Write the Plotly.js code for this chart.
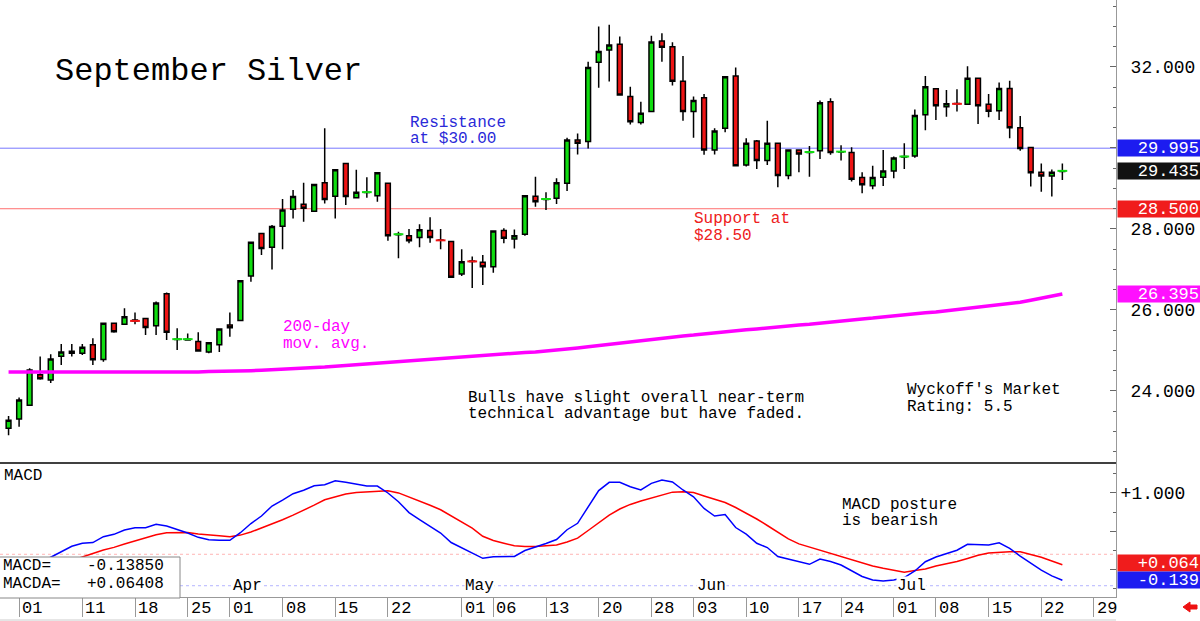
<!DOCTYPE html>
<html><head><meta charset="utf-8">
<script src="https://cdn.plot.ly/plotly-3.0.1.min.js"></script>
<style>html,body{margin:0;padding:0;background:#fff}#chart{width:1200px;height:621px}</style>
</head><body><div id="chart"></div>
<script>
// Daily OHLC, Feb 29 .. Jul 24 (trading days, index = position)
const openP = [23.08,23.31,23.65,24.40,24.27,24.86,24.98,24.93,25.14,24.78,
25.67,25.65,25.75,25.79,25.61,26.40,25.27,25.26,25.22,24.96,
25.14,25.63,25.74,26.84,27.89,27.55,28.07,28.49,28.61,28.44,
29.14,28.81,29.62,28.77,28.90,28.82,29.13,27.86,27.83,27.79,
27.96,27.73,27.69,26.89,27.21,27.18,27.07,27.96,27.75,27.87,
28.81,28.73,28.76,29.13,30.20,30.16,32.12,32.42,32.56,31.27,
30.63,30.90,32.64,32.50,31.65,30.90,31.24,29.95,30.49,31.78,
29.58,30.17,29.69,30.12,29.32,29.95,29.89,29.93,31.14,29.90,
29.89,29.27,29.07,29.28,29.43,29.78,29.80,30.82,31.46,31.02,
31.10,31.08,31.72,31.08,30.92,31.47,30.50,30.01,29.40,29.31,
29.42];
const highP = [23.38,23.84,24.56,24.85,24.91,25.16,25.16,25.16,25.30,25.69,
25.69,26.04,25.94,25.79,26.21,26.43,25.55,25.42,25.45,25.20,
25.54,25.94,26.74,27.67,27.89,28.10,28.74,28.96,29.14,29.10,
30.49,29.47,29.62,29.46,29.28,29.41,29.15,27.93,28.00,28.12,
28.29,28.00,27.70,27.50,27.32,27.36,27.97,28.02,27.99,28.84,
29.29,28.91,29.25,30.25,30.36,32.13,33.00,33.04,32.75,31.51,
31.14,32.77,32.83,32.61,32.27,31.27,31.33,30.49,31.78,31.99,
30.24,30.20,30.67,30.13,29.97,29.96,30.05,31.17,31.23,30.07,
30.02,29.40,29.56,29.95,29.79,30.12,30.95,31.78,31.48,31.43,
31.45,32.02,31.73,31.33,31.62,31.66,30.79,30.03,29.62,29.47,
29.62];
const lowP = [22.91,23.12,23.63,24.28,24.20,24.64,24.85,24.89,24.64,24.72,
25.44,25.63,25.65,25.38,25.38,25.26,25.01,25.24,24.97,24.93,
24.96,25.34,25.73,26.70,27.36,27.00,27.50,28.26,28.18,28.42,
28.63,28.26,28.59,28.76,28.77,28.67,27.71,27.28,27.65,27.55,
27.66,27.50,26.80,26.84,26.54,26.62,26.92,27.65,27.52,27.83,
28.55,28.47,28.62,28.94,29.84,29.99,31.49,31.64,31.29,30.58,
30.58,30.89,32.13,31.54,30.67,30.25,29.83,29.84,30.39,29.55,
29.54,29.48,29.58,29.03,29.23,29.40,29.29,29.73,29.83,29.69,
29.17,28.88,28.98,29.06,29.25,29.48,29.76,30.44,30.69,30.77,
30.90,31.07,30.59,30.76,30.69,30.24,29.93,29.05,28.92,28.80,
29.21];
const closeP = [23.28,23.78,24.52,24.30,24.79,24.96,24.93,25.08,24.77,25.67,
25.46,25.83,25.73,25.57,26.17,25.45,25.28,25.28,24.99,25.19,
25.53,25.56,26.72,27.67,27.52,28.06,28.47,28.80,28.51,29.10,
28.73,29.46,28.80,28.91,28.91,29.39,27.83,27.87,27.71,27.98,
27.79,27.72,26.81,27.19,27.20,27.07,27.95,27.77,27.83,28.82,
28.67,28.74,29.14,30.20,30.12,31.99,32.38,32.54,31.31,30.65,
30.86,32.62,32.49,31.65,30.90,31.17,29.95,30.42,31.76,29.56,
30.12,29.69,30.12,29.32,29.95,29.85,29.90,31.12,29.89,29.91,
29.23,29.09,29.27,29.43,29.75,29.79,30.80,31.51,31.04,31.09,
31.09,31.72,31.04,30.91,31.47,30.50,29.99,29.39,29.31,29.40,
29.435];
const ma200 = [24.47,24.47,24.47,24.47,24.46,24.46,24.45,24.46,24.46,24.46,
24.46,24.46,24.47,24.47,24.47,24.47,24.47,24.47,24.47,24.48,
24.48,24.48,24.49,24.50,24.51,24.52,24.53,24.54,24.56,24.57,
24.59,24.61,24.63,24.65,24.67,24.69,24.71,24.73,24.75,24.77,
24.79,24.81,24.83,24.85,24.87,24.89,24.90,24.92,24.93,24.95,
24.96,24.98,25.00,25.03,25.06,25.09,25.12,25.16,25.19,25.23,
25.26,25.28,25.31,25.33,25.36,25.38,25.41,25.43,25.46,25.48,
25.51,25.53,25.56,25.58,25.61,25.63,25.65,25.68,25.70,25.73,
25.75,25.78,25.80,25.83,25.85,25.88,25.90,25.93,25.95,25.98,
26.00,26.03,26.06,26.09,26.12,26.15,26.19,26.24,26.29,26.34,
26.395];
const macdLine = [null,null,null,0.09,0.164,0.233,0.304,0.343,0.353,0.429,
0.460,0.516,0.546,0.546,0.591,0.568,0.523,0.477,0.421,0.389,
0.383,0.382,0.481,0.601,0.699,0.829,0.907,0.990,1.034,1.094,
1.107,1.159,1.138,1.116,1.090,1.090,0.999,0.885,0.744,0.651,
0.562,0.477,0.353,0.282,0.213,0.147,0.168,0.168,0.171,0.249,
0.291,0.340,0.392,0.520,0.604,0.810,1.031,1.138,1.138,1.081,
1.038,1.125,1.168,1.142,1.038,0.950,0.797,0.699,0.718,0.549,
0.462,0.343,0.288,0.171,0.136,0.103,0.069,0.138,0.106,0.060,
-0.018,-0.090,-0.136,-0.149,-0.136,-0.103,-0.018,0.103,0.164,0.213,
0.253,0.330,0.330,0.321,0.349,0.278,0.177,0.082,-0.008,-0.081,
-0.13850];
const macdAvg = [null,null,null,null,null,null,0.12,0.16,0.21,0.256,
0.29,0.335,0.375,0.42,0.455,0.482,0.486,0.484,0.465,0.449,
0.44,0.43,0.45,0.49,0.54,0.59,0.65,0.71,0.77,0.84,
0.91,0.95,0.985,1.005,1.015,1.025,1.028,1.0,0.95,0.90,
0.84,0.78,0.70,0.63,0.54,0.435,0.38,0.345,0.31,0.30,
0.30,0.31,0.32,0.36,0.41,0.51,0.61,0.71,0.79,0.85,
0.895,0.93,0.965,1.01,1.015,1.005,0.96,0.92,0.875,0.81,
0.74,0.66,0.575,0.49,0.40,0.335,0.295,0.255,0.215,0.175,
0.13,0.085,0.047,0.017,-0.012,-0.035,-0.012,0.008,0.047,0.076,
0.106,0.145,0.186,0.216,0.229,0.233,0.233,0.197,0.160,0.112,
0.06408];
const tickIdx = [1,7,12,17,21,26,31,36,43,46,51,56,61,65,70,75,79,84,88,93,98,103];
const tickLbl = ['01','11','18','25','01','08','15','22','01','06','13','20','28','03','10','17','24','01','08','15','22','29'];
const monthIdx = [21,43,65,84];
const monthLbl = ['Apr','May','Jun','Jul'];
const priceTicks = [24,26,28,30,32];
const priceTickText = ['24.000','26.000','28.000','','32.000'];
const resistance = 29.995;
const support = 28.5;
const macdRefHi = 0.2;
const macdRefLo = -0.21;

const F = 'Liberation Mono, DejaVu Sans Mono, monospace';
const W = 1116, H = 597;
const px = x => x / W;
const py = y => (H - y) / H;
const split = py(463);
const idx = openP.map((_, i) => i);
const last = openP.length - 1;

const GREEN = '#10dd10', RED = '#ee1414';

const dojiI = idx.filter(i => Math.abs(closeP[i] - openP[i]) < 0.03);

const traces = [
  {type:'candlestick', x:idx, open:openP, high:highP, low:lowP, close:closeP,
   xaxis:'x', yaxis:'y', whiskerwidth:0, hoverinfo:'skip',
   increasing:{fillcolor:GREEN, line:{color:'#000', width:1.5}},
   decreasing:{fillcolor:RED, line:{color:'#000', width:1.5}}},
  {type:'scatter', mode:'markers', x:dojiI, y:dojiI.map(i => closeP[i]), xaxis:'x', yaxis:'y',
   hoverinfo:'skip',
   marker:{symbol:'line-ew', size:7, line:{width:2, color:dojiI.map(i => closeP[i] >= openP[i] ? GREEN : RED)}}},
  {type:'scatter', mode:'lines', x:idx, y:ma200, xaxis:'x', yaxis:'y', hoverinfo:'skip',
   line:{color:'#ff00ff', width:3.5}},
  {type:'scatter', mode:'lines', x:idx, y:macdAvg, xaxis:'x', yaxis:'y2', hoverinfo:'skip',
   line:{color:'#ff0000', width:1.5}},
  {type:'scatter', mode:'lines', x:idx, y:macdLine, xaxis:'x', yaxis:'y2', hoverinfo:'skip',
   line:{color:'#0000ff', width:1.5}}
];

function T(text, x, y, color, size) {
  return {text:text, xref:'paper', yref:'paper', x:px(x), y:py(y), xanchor:'left', yanchor:'middle',
          showarrow:false, font:{family:F, size:size || 16, color:color || '#000'}};
}
function box(text, yref, yv, bg, yshift) {
  return {text:text, xref:'paper', x:1, xanchor:'left', xshift:1, yref:yref, y:yv, yanchor:'middle',
          yshift:yshift || 0, showarrow:false, bgcolor:bg, width:80, height:14, borderpad:1, align:'right',
          font:{family:F, size:17, color:'#fff'}};
}

const ann = [
  T('September Silver', 53, 72, '#000', 32),
  T('Resistance', 408, 123, '#2a2ad8'),
  T('at $30.00', 408, 139, '#2a2ad8'),
  T('Support at', 692, 219, '#ee2020'),
  T('$28.50', 692, 236, '#ee2020'),
  T('200-day', 281, 327, '#ff00ff'),
  T('mov. avg.', 281, 344, '#ff00ff'),
  T('Bulls have slight overall near-term', 466, 398),
  T('technical advantage but have faded.', 466, 414),
  T("Wyckoff's Market", 905, 390),
  T('Rating: 5.5', 905, 407),
  T('MACD', 2, 476),
  T('MACD posture', 840, 505),
  T('is bearish', 840, 521),
  T('MACD=', 1, 566, '#000', 16),
  T('MACDA=', 1, 584, '#000', 16),
  Object.assign(T(macdLine[last].toFixed(5), 166, 566, '#000', 16), {xanchor:'right'}),
  Object.assign(T('+' + macdAvg[last].toFixed(5), 166, 584, '#000', 16), {xanchor:'right'}),
  box(resistance.toFixed(3), 'y', resistance, '#1c1cf0'),
  box(closeP[last].toFixed(3), 'y', closeP[last], '#111'),
  box(support.toFixed(3), 'y', support, '#f01c1c'),
  box(ma200[last].toFixed(3), 'y', ma200[last], '#ff10ff'),
  box('+' + macdAvg[last].toFixed(3), 'y2', macdAvg[last], '#f01c1c', 2),
  box(macdLine[last].toFixed(3), 'y2', macdLine[last], '#1c1cf0', 0)
];
monthIdx.forEach((m, k) => ann.push({text:monthLbl[k], xref:'x', x:m, xanchor:'left', xshift:2,
  yref:'paper', y:py(586), yanchor:'middle', showarrow:false, bgcolor:'#fff', borderpad:0,
  font:{family:F, size:16, color:'#000'}}));
tickIdx.forEach((t, k) => ann.push({text:tickLbl[k], xref:'x', x:t, xanchor:'left', xshift:1,
  yref:'paper', y:py(608), yanchor:'middle', showarrow:false,
  font:{family:F, size:17, color:'#000'}}));

const arrowPts = [[1183,607],[1190,602],[1190,605],[1197,605],[1197,609],[1190,609],[1190,612]];
const arrowPath = 'M ' + arrowPts.map(p => px(p[0]) + ',' + py(p[1])).join(' L ') + ' Z';

const shapes = [
  {type:'line', xref:'paper', x0:0, x1:1, yref:'y', y0:resistance, y1:resistance, line:{color:'#7878ff', width:1}, layer:'below'},
  {type:'line', xref:'paper', x0:0, x1:1, yref:'y', y0:support, y1:support, line:{color:'#ff6e6e', width:1}, layer:'below'},
  {type:'line', xref:'paper', x0:0, x1:1, yref:'y2', y0:macdRefHi, y1:macdRefHi, line:{color:'#ffb4b4', width:1, dash:'dot'}, layer:'below'},
  {type:'line', xref:'paper', x0:0, x1:1, yref:'y2', y0:macdRefLo, y1:macdRefLo, line:{color:'#b4b4ff', width:1, dash:'dot'}, layer:'below'},
  {type:'line', xref:'paper', x0:0, x1:1, yref:'paper', y0:split, y1:split, line:{color:'#000', width:1.5}},
  {type:'rect', xref:'paper', x0:-0.01, x1:px(180), yref:'paper', y0:py(598), y1:py(557), fillcolor:'#fff', line:{color:'#888', width:1}, layer:'above'},
  {type:'line', xref:'paper', x0:0, x1:1, yref:'paper', y0:py(620), y1:py(620), line:{color:'#ccc', width:1}},
  {type:'path', xref:'paper', yref:'paper', path:arrowPath, fillcolor:'#ee1111', line:{color:'#ee1111', width:1}}
];

const layout = {
  width:1200, height:621, margin:{l:0, r:84, t:0, b:24, pad:0},
  paper_bgcolor:'#fff', plot_bgcolor:'#fff', showlegend:false, hovermode:false, boxgap:0.35,
  xaxis:{domain:[0,1], anchor:'y2', range:[-0.812,105.09], showgrid:false, zeroline:false,
    tickmode:'array', tickvals:tickIdx, ticks:'outside', ticklen:19, tickwidth:1, tickcolor:'#999',
    showticklabels:false, showline:true, linecolor:'#999', linewidth:1, rangeslider:{visible:false}},
  yaxis:{domain:[split,1], anchor:'x', side:'right', range:[22.222,33.654], showgrid:false, zeroline:false,
    tickmode:'array', tickvals:priceTicks, ticktext:priceTickText, ticks:'inside', ticklen:6, tickcolor:'#666',
    minor:{tickmode:'linear', tick0:0, dtick:0.5, ticks:'inside', ticklen:3, tickcolor:'#666'},
    showline:true, linecolor:'#999', linewidth:1, ticklabelstandoff:10,
    tickfont:{family:F, size:18, color:'#000'}},
  yaxis2:{domain:[0,split], anchor:'x', side:'right', range:[-0.357,1.39], showgrid:false, zeroline:false,
    tickmode:'array', tickvals:[0,0.5,1], ticktext:['','','+1.000'], ticks:'inside', ticklen:6, tickcolor:'#666',
    minor:{tickmode:'linear', tick0:0, dtick:0.25, ticks:'inside', ticklen:3, tickcolor:'#666'},
    showline:true, linecolor:'#999', linewidth:1, ticklabelstandoff:0,
    tickfont:{family:F, size:18, color:'#000'}},
  annotations:ann, shapes:shapes
};

Plotly.newPlot('chart', traces, layout, {staticPlot:true, displayModeBar:false});
</script>
</body></html>
